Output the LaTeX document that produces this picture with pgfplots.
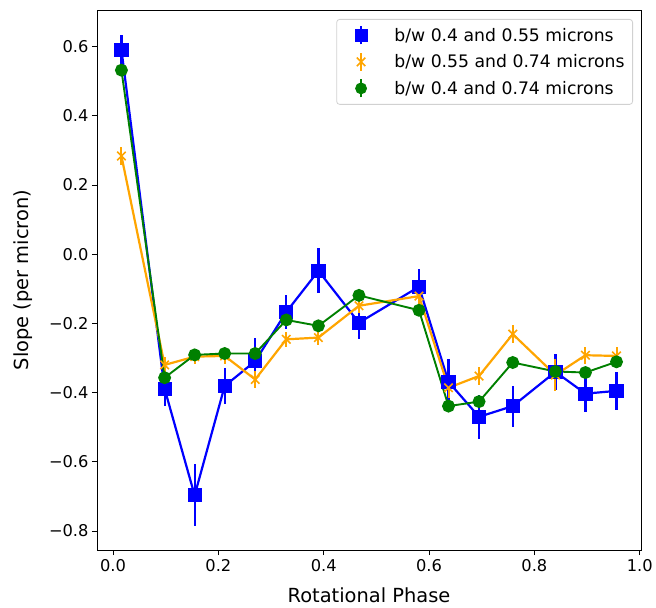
\documentclass[border=0pt]{standalone}
\usepackage{fontspec}
\setmainfont{DejaVu Sans}
\usepackage{pgfplots}
\pgfplotsset{compat=1.18}

\definecolor{mblue}{RGB}{0,0,255}
\definecolor{morange}{RGB}{255,165,0}
\definecolor{mgreen}{RGB}{0,128,0}

\pgfplotstableread{
x      b       be     o       oe     g       ge
0.016  0.591   0.042  0.284   0.025  0.532   0.012
0.098  -0.389  0.050  -0.320  0.022  -0.357  0.012
0.155  -0.697  0.090  -0.296  0.022  -0.291  0.012
0.212  -0.381  0.052  -0.294  0.022  -0.287  0.012
0.270  -0.309  0.068  -0.362  0.025  -0.287  0.012
0.329  -0.167  0.050  -0.246  0.022  -0.190  0.012
0.390  -0.048  0.065  -0.241  0.022  -0.207  0.012
0.467  -0.198  0.047  -0.149  0.022  -0.119  0.012
0.581  -0.094  0.050  -0.121  0.022  -0.162  0.012
0.637  -0.369  0.066  -0.386  0.030  -0.439  0.012
0.695  -0.470  0.063  -0.352  0.025  -0.426  0.012
0.759  -0.439  0.059  -0.231  0.025  -0.313  0.012
0.840  -0.340  0.052  -0.349  0.045  -0.339  0.012
0.897  -0.403  0.053  -0.292  0.025  -0.342  0.012
0.956  -0.395  0.055  -0.294  0.025  -0.311  0.012
}\slopes

\pgfplotsset{
  ebleg/.style={legend image code/.code={
    \path (-18bp,0) (6bp,0);
    \draw[##1,mark=none,line width=2bp] (0,-9bp)--(0,9bp);
    \draw[##1] plot[only marks] coordinates {(0,0)};
  }},
}

\begin{document}
\begin{tikzpicture}
\begin{axis}[
  name=ax,
  scale only axis,width=544bp,height=540bp,
  xmin=-0.0304,xmax=1.0025,ymin=-0.855,ymax=0.706,
  xtick={0,0.2,0.4,0.6,0.8,1.0},
  xticklabels={0.0,0.2,0.4,0.6,0.8,1.0},
  ytick={-0.8,-0.6,-0.4,-0.2,0,0.2,0.4,0.6},
  yticklabels={−0.8,−0.6,−0.4,−0.2,0.0,0.2,0.4,0.6},
  tick label style={font=\fontsize{16.3}{19}\selectfont},
  label style={font=\fontsize{19.5}{22}\selectfont},
  xlabel={Rotational Phase},ylabel={Slope (per micron)},
  xlabel style={yshift=-9bp},ylabel style={yshift=10bp},
  tick align=outside,xtick pos=left,ytick pos=left,
  major tick length=5bp,
  tick style={line width=0.9bp,black},
  axis line style={line width=0.9bp,black},
  xticklabel style={yshift=-1bp},
  error bars/error mark=none,
]
\addplot[mblue,line width=2.2bp,mark=square*,mark size=6bp,mark options={solid},
  error bars/.cd,y dir=both,y explicit,error bar style={line width=2.2bp}]
  table[x=x,y=b,y error=be]{\slopes};
\addplot[morange,line width=2.2bp,mark=x,mark size=6bp,mark options={solid,line width=1.6bp},
  error bars/.cd,y dir=both,y explicit,error bar style={line width=2bp}]
  table[x=x,y=o,y error=oe]{\slopes};
\addplot[mgreen,line width=1.9bp,mark=*,mark size=5.5bp,mark options={solid},
  error bars/.cd,y dir=both,y explicit,error bar style={line width=1.9bp}]
  table[x=x,y=g,y error=ge]{\slopes};
\end{axis}
\begin{axis}[
  scale only axis,width=544bp,height=540bp,at={(ax.south west)},anchor=south west,
  xmin=-0.0304,xmax=1.0025,ymin=-0.855,ymax=0.706,hide axis,
  legend style={at={(1,1)},anchor=north east,xshift=-8bp,yshift=-9bp,
    draw=black!18,rounded corners=3bp,fill=white,line width=0.8bp,
    font=\fontsize{17.3}{20}\selectfont,row sep=6.5bp,inner xsep=6bp,inner ysep=6bp,
    column sep=25bp},
  legend cell align=left,
]
\addlegendimage{ebleg,mblue,mark=square*,mark size=6bp,mark options={solid}}
\addlegendentry{b/w 0.4 and 0.55 microns}
\addlegendimage{ebleg,morange,mark=x,mark size=6bp,mark options={solid,line width=1.6bp}}
\addlegendentry{b/w 0.55 and 0.74 microns}
\addlegendimage{ebleg,mgreen,mark=*,mark size=5.5bp,mark options={solid}}
\addlegendentry{b/w 0.4 and 0.74 microns}
\end{axis}
\path (ax.south west) ++(-97bp,-58bp) rectangle ++(656bp,608bp);
\end{tikzpicture}
\end{document}
